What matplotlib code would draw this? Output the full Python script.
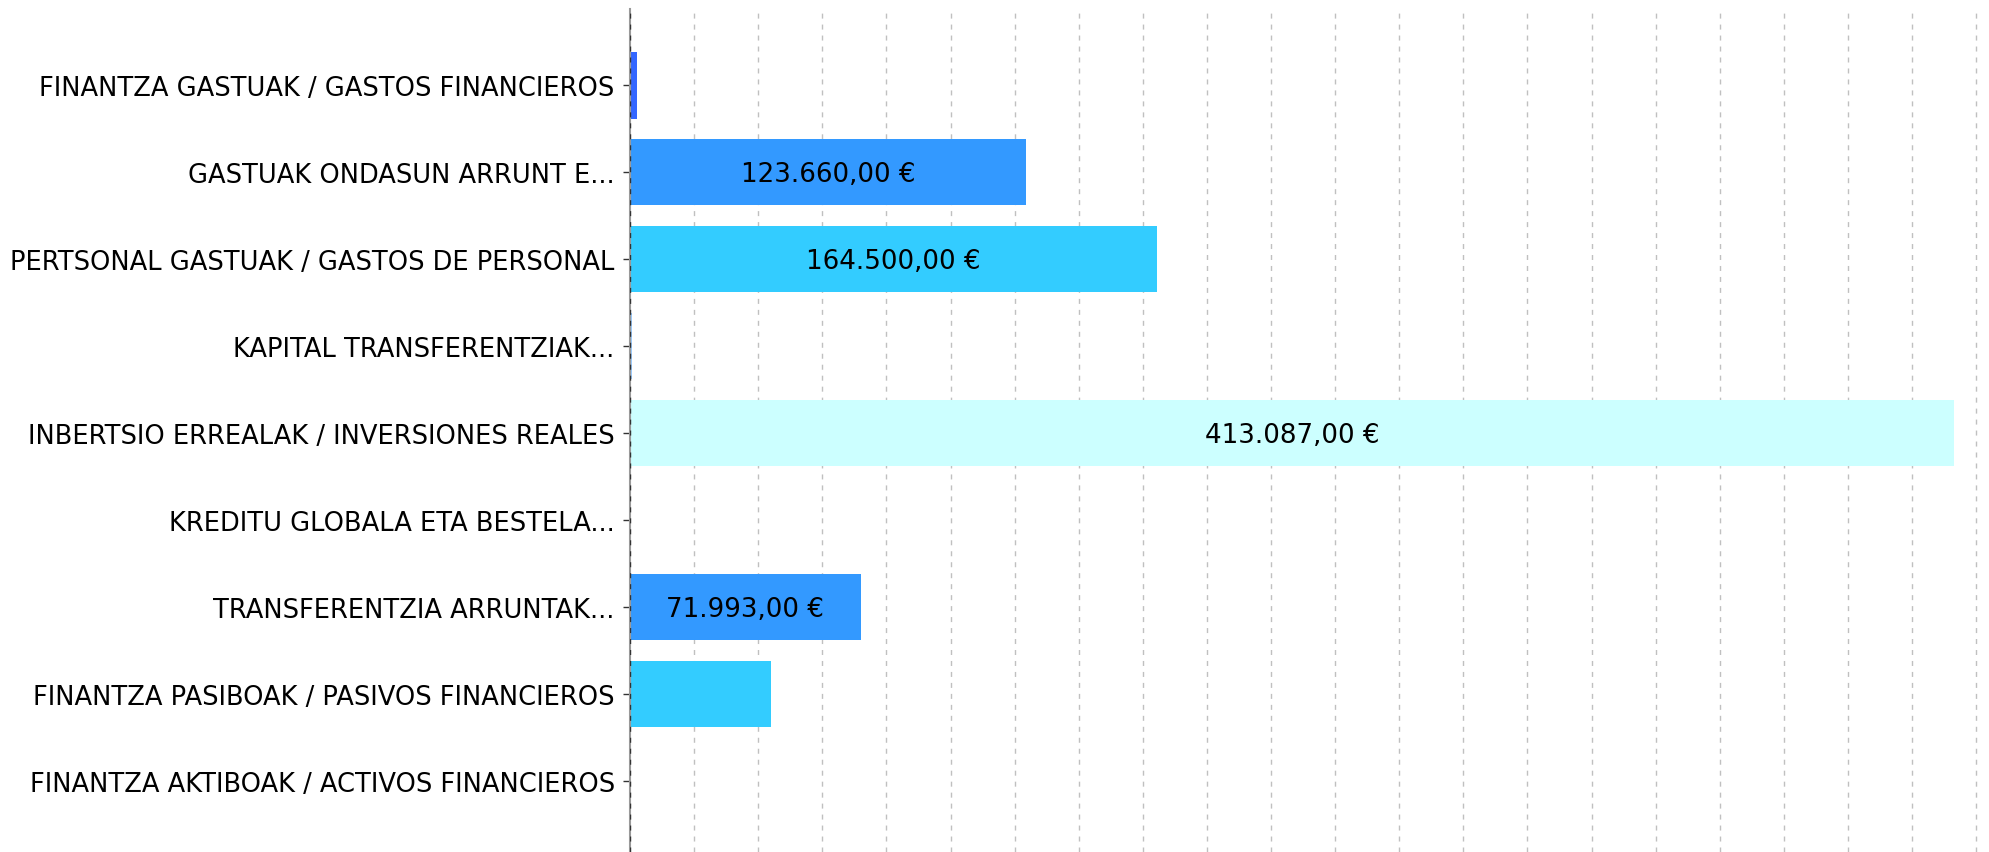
import numpy as np
import matplotlib.pyplot as plt

# data
categories = [
    "FINANTZA GASTUAK / GASTOS FINANCIEROS",
    "GASTUAK ONDASUN ARRUNT E...",
    "PERTSONAL GASTUAK / GASTOS DE PERSONAL",
    "KAPITAL TRANSFERENTZIAK...",
    "INBERTSIO ERREALAK / INVERSIONES REALES",
    "KREDITU GLOBALA ETA BESTELA...",
    "TRANSFERENTZIA ARRUNTAK...",
    "FINANTZA PASIBOAK / PASIVOS FINANCIEROS",
    "FINANTZA AKTIBOAK / ACTIVOS FINANCIEROS",
]
values = [2200, 123660, 164500, 500, 413087, 400, 71993, 44000, 400]
colors = ["#3366ff", "#3399ff", "#33ccff", "#99ccff", "#ccffff",
          "#3366ff", "#3399ff", "#33ccff", "#99ccff"]


def euro(v):
    s = f"{v:,.2f}".replace(",", "X").replace(".", ",").replace("X", ".")
    return s + " €"


fig = plt.figure(figsize=(19.9, 8.53), dpi=100)
ax = fig.add_axes([630 / 1990, 0.0, 1360 / 1990, 1 - 10 / 853])

y = np.arange(len(categories))
ax.barh(y, values, height=0.76, color=colors, zorder=2)

for yi, v in zip(y, values):
    if v > 50000:
        ax.text(v / 2, yi + 0.02, euro(v), ha="center", va="center",
                fontsize=18.8, color="black", zorder=3)

ax.set_xlim(0, 424300)
ax.set_ylim(8.82, -0.88)
ax.set_yticks(y)
ax.set_yticklabels(categories, fontsize=18.5)
ax.set_xticks(np.arange(20000, 424300, 20000))
ax.tick_params(axis="x", length=0, labelbottom=False)
ax.tick_params(axis="y", length=5, width=1, color="#333333", pad=6)

ax.grid(axis="x", color="#c0c0c0", linestyle=(0, (3.6, 4.3)), linewidth=1.0, zorder=0)
ax.axvline(0, color="#333333", linestyle=(0, (3.6, 4.3)), linewidth=1.0, zorder=4)

for s in ["top", "right", "bottom"]:
    ax.spines[s].set_visible(False)
ax.spines["left"].set_color("#999999")
ax.spines["left"].set_linewidth(1.5)

fig.savefig("out.png", dpi=100)
